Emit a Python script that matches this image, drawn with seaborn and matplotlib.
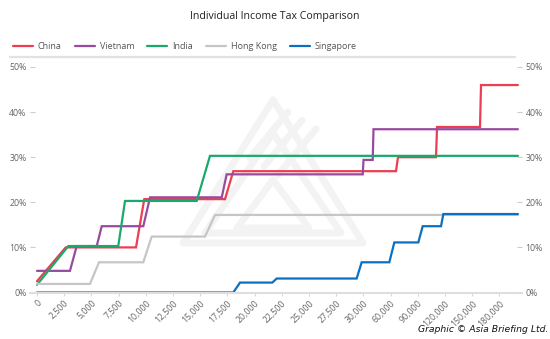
import numpy as np
import pandas as pd
import matplotlib
matplotlib.use("Agg")
import matplotlib.pyplot as plt
from matplotlib.lines import Line2D
import seaborn as sns

# Income tick values on the x axis (USD) and their labels
tick_income = [0, 2500, 5000, 7500, 10000, 12500, 15000, 17500, 20000, 22500,
               25000, 27500, 30000, 60000, 90000, 120000, 150000, 180000]
tick_labels = ["0", "2,500", "5,000", "7,500", "10,000", "12,500", "15,000",
               "17,500", "20,000", "22,500", "25,000", "27,500", "30,000",
               "60,000", "90,000", "120,000", "150,000", "180,000"]
y_ticks = [0, 10, 20, 30, 40, 50]

countries = ["China", "Vietnam", "India", "Hong Kong", "Singapore"]

# Marginal tax rate (%) at annual income breakpoints (USD)
china_income = [0, 2640, 9100, 9860, 17280, 18040, 65960, 68100, 110070, 111180, 158600, 159700, 200400]
china_rate = [2.5, 10.0, 10.0, 20.7, 20.7, 26.9, 26.9, 30.0, 30.0, 36.7, 36.7, 46.0, 46.0]

vietnam_income = [0, 3030, 3650, 5490, 5950, 9770, 10390, 16980, 17430, 29940, 30100, 40260, 41130, 200400]
vietnam_rate = [4.8, 4.8, 10.3, 10.3, 14.7, 14.7, 21.1, 21.1, 26.2, 26.2, 29.4, 29.4, 36.2, 36.2]

india_income = [0, 2880, 7470, 8090, 14680, 15900, 200400]
india_rate = [1.7, 10.3, 10.3, 20.3, 20.3, 30.3, 30.3]

hongkong_income = [0, 4870, 5700, 9770, 10540, 15440, 16360, 200400]
hongkong_rate = [1.9, 1.9, 6.7, 6.7, 12.4, 12.4, 17.2, 17.2]

singapore_income = [0, 18040, 18660, 21630, 22030, 29380, 29840, 58560, 64080,
                    90540, 95400, 115590, 118140, 200400]
singapore_rate = [0.0, 0.0, 2.2, 2.2, 3.1, 3.1, 6.7, 6.7, 11.1, 11.1, 14.7, 14.7, 17.4, 17.4]

colors = {"China": "#ec3e50", "Vietnam": "#984a9e", "India": "#1ba96b",
          "Hong Kong": "#c6c6c6", "Singapore": "#0b70c1"}

series = {
    "China": (china_income, china_rate),
    "Vietnam": (vietnam_income, vietnam_rate),
    "India": (india_income, india_rate),
    "Hong Kong": (hongkong_income, hongkong_rate),
    "Singapore": (singapore_income, singapore_rate),
}
df = pd.concat(
    [pd.DataFrame({"income": inc, "rate": rt, "country": name})
     for name, (inc, rt) in series.items()],
    ignore_index=True,
)


# Piecewise x scale: 2,500 steps up to 30,000, then 30,000 steps, equally spaced
def fwd(x):
    x = np.asarray(x, dtype=float)
    return np.where(x <= 30000, x / 2500.0, 12.0 + (x - 30000.0) / 30000.0)


def inv(p):
    p = np.asarray(p, dtype=float)
    return np.where(p <= 12, p * 2500.0, 30000.0 + (p - 12.0) * 30000.0)


sns.set_theme(style="white")
plt.rcParams["font.family"] = ["Open Sans", "DejaVu Sans"]

W, H = 550, 339
fig = plt.figure(figsize=(W / 100, H / 100), dpi=100)
ax = fig.add_axes([30 / W, 1 - 292.5 / H, (522 - 30) / W, (292.5 - 67) / H])

# faint triangular emblem behind the plot
wm = dict(color="#f3f3f3", lw=5, solid_joinstyle="round", solid_capstyle="round", zorder=0)


def fig_line(xs, ys, **kw):
    fig.add_artist(Line2D([x / W for x in xs], [1 - y / H for y in ys], **kw))


fig_line([273, 183, 363, 273], [100, 243, 243, 100], **wm)
fig_line([273, 205, 341, 273], [133, 233, 233, 133], **wm)
fig_line([273, 237, 309, 273], [180, 228, 228, 180], **wm)
for dx in (0, 14, 28):
    fig_line([250 + dx, 288 + dx], [158 + dx * 0.6, 112 + dx * 0.6], **wm)

ax.set_xscale("function", functions=(fwd, inv))
ax.patch.set_alpha(0)

sns.lineplot(data=df, x="income", y="rate", hue="country", hue_order=countries,
             palette=colors, estimator=None, sort=False, linewidth=1.6,
             legend=False, ax=ax)
for ln in ax.lines:
    ln.set_clip_on(False)
    ln.set_solid_joinstyle("miter")

ax.set_xlim(inv(-0.257), inv(17.83))
ax.set_ylim(0, 50)
ax.set_xlabel("")
ax.set_ylabel("")

ax.set_xticks(tick_income)
ax.set_xticks([], minor=True)
ax.set_xticklabels(tick_labels, rotation=45, ha="right", va="top",
                   rotation_mode="anchor", fontsize=6.3, color="#666666")
ax.set_yticks(y_ticks)
ax.set_yticklabels([f"{v}%" for v in y_ticks], fontsize=6.3, color="#666666")

ax.tick_params(axis="x", direction="out", length=2.5, width=0.8, color="#d8d8d8",
               pad=2, bottom=True)
ax.tick_params(axis="y", direction="in", length=3.8, width=0.8, color="#cccccc",
               pad=2.5, left=True, right=True, labelleft=True, labelright=True)

for side in ("top", "left", "right"):
    ax.spines[side].set_visible(False)
ax.spines["bottom"].set_color("#dedede")
ax.spines["bottom"].set_linewidth(1.5)
ax.grid(False)

fig.text(275 / W, 1 - 16 / H, "Individual Income Tax Comparison",
         ha="center", va="center", fontsize=7.6, color="#222222")

handles = [Line2D([], [], color=colors[c], lw=1.6) for c in countries]
fig.legend(handles, countries, loc="center left", bbox_to_anchor=(13 / W, 1 - 46.5 / H),
           ncol=5, frameon=False, fontsize=6.5, labelcolor="#555555",
           handlelength=2.2, handletextpad=0.55, columnspacing=1.45,
           borderpad=0, borderaxespad=0)
fig.add_artist(Line2D([10 / W, 515 / W], [1 - 56.5 / H] * 2, color="#e2e2e2", lw=1.6))

fig.text(548 / W, 1 - 330 / H, "Graphic \u00a9 Asia Briefing Ltd.",
         ha="right", va="center", fontsize=6.7, style="italic",
         family=["Liberation Sans Narrow", "DejaVu Sans"], color="#111111")

fig.savefig("out.png", dpi=100)
